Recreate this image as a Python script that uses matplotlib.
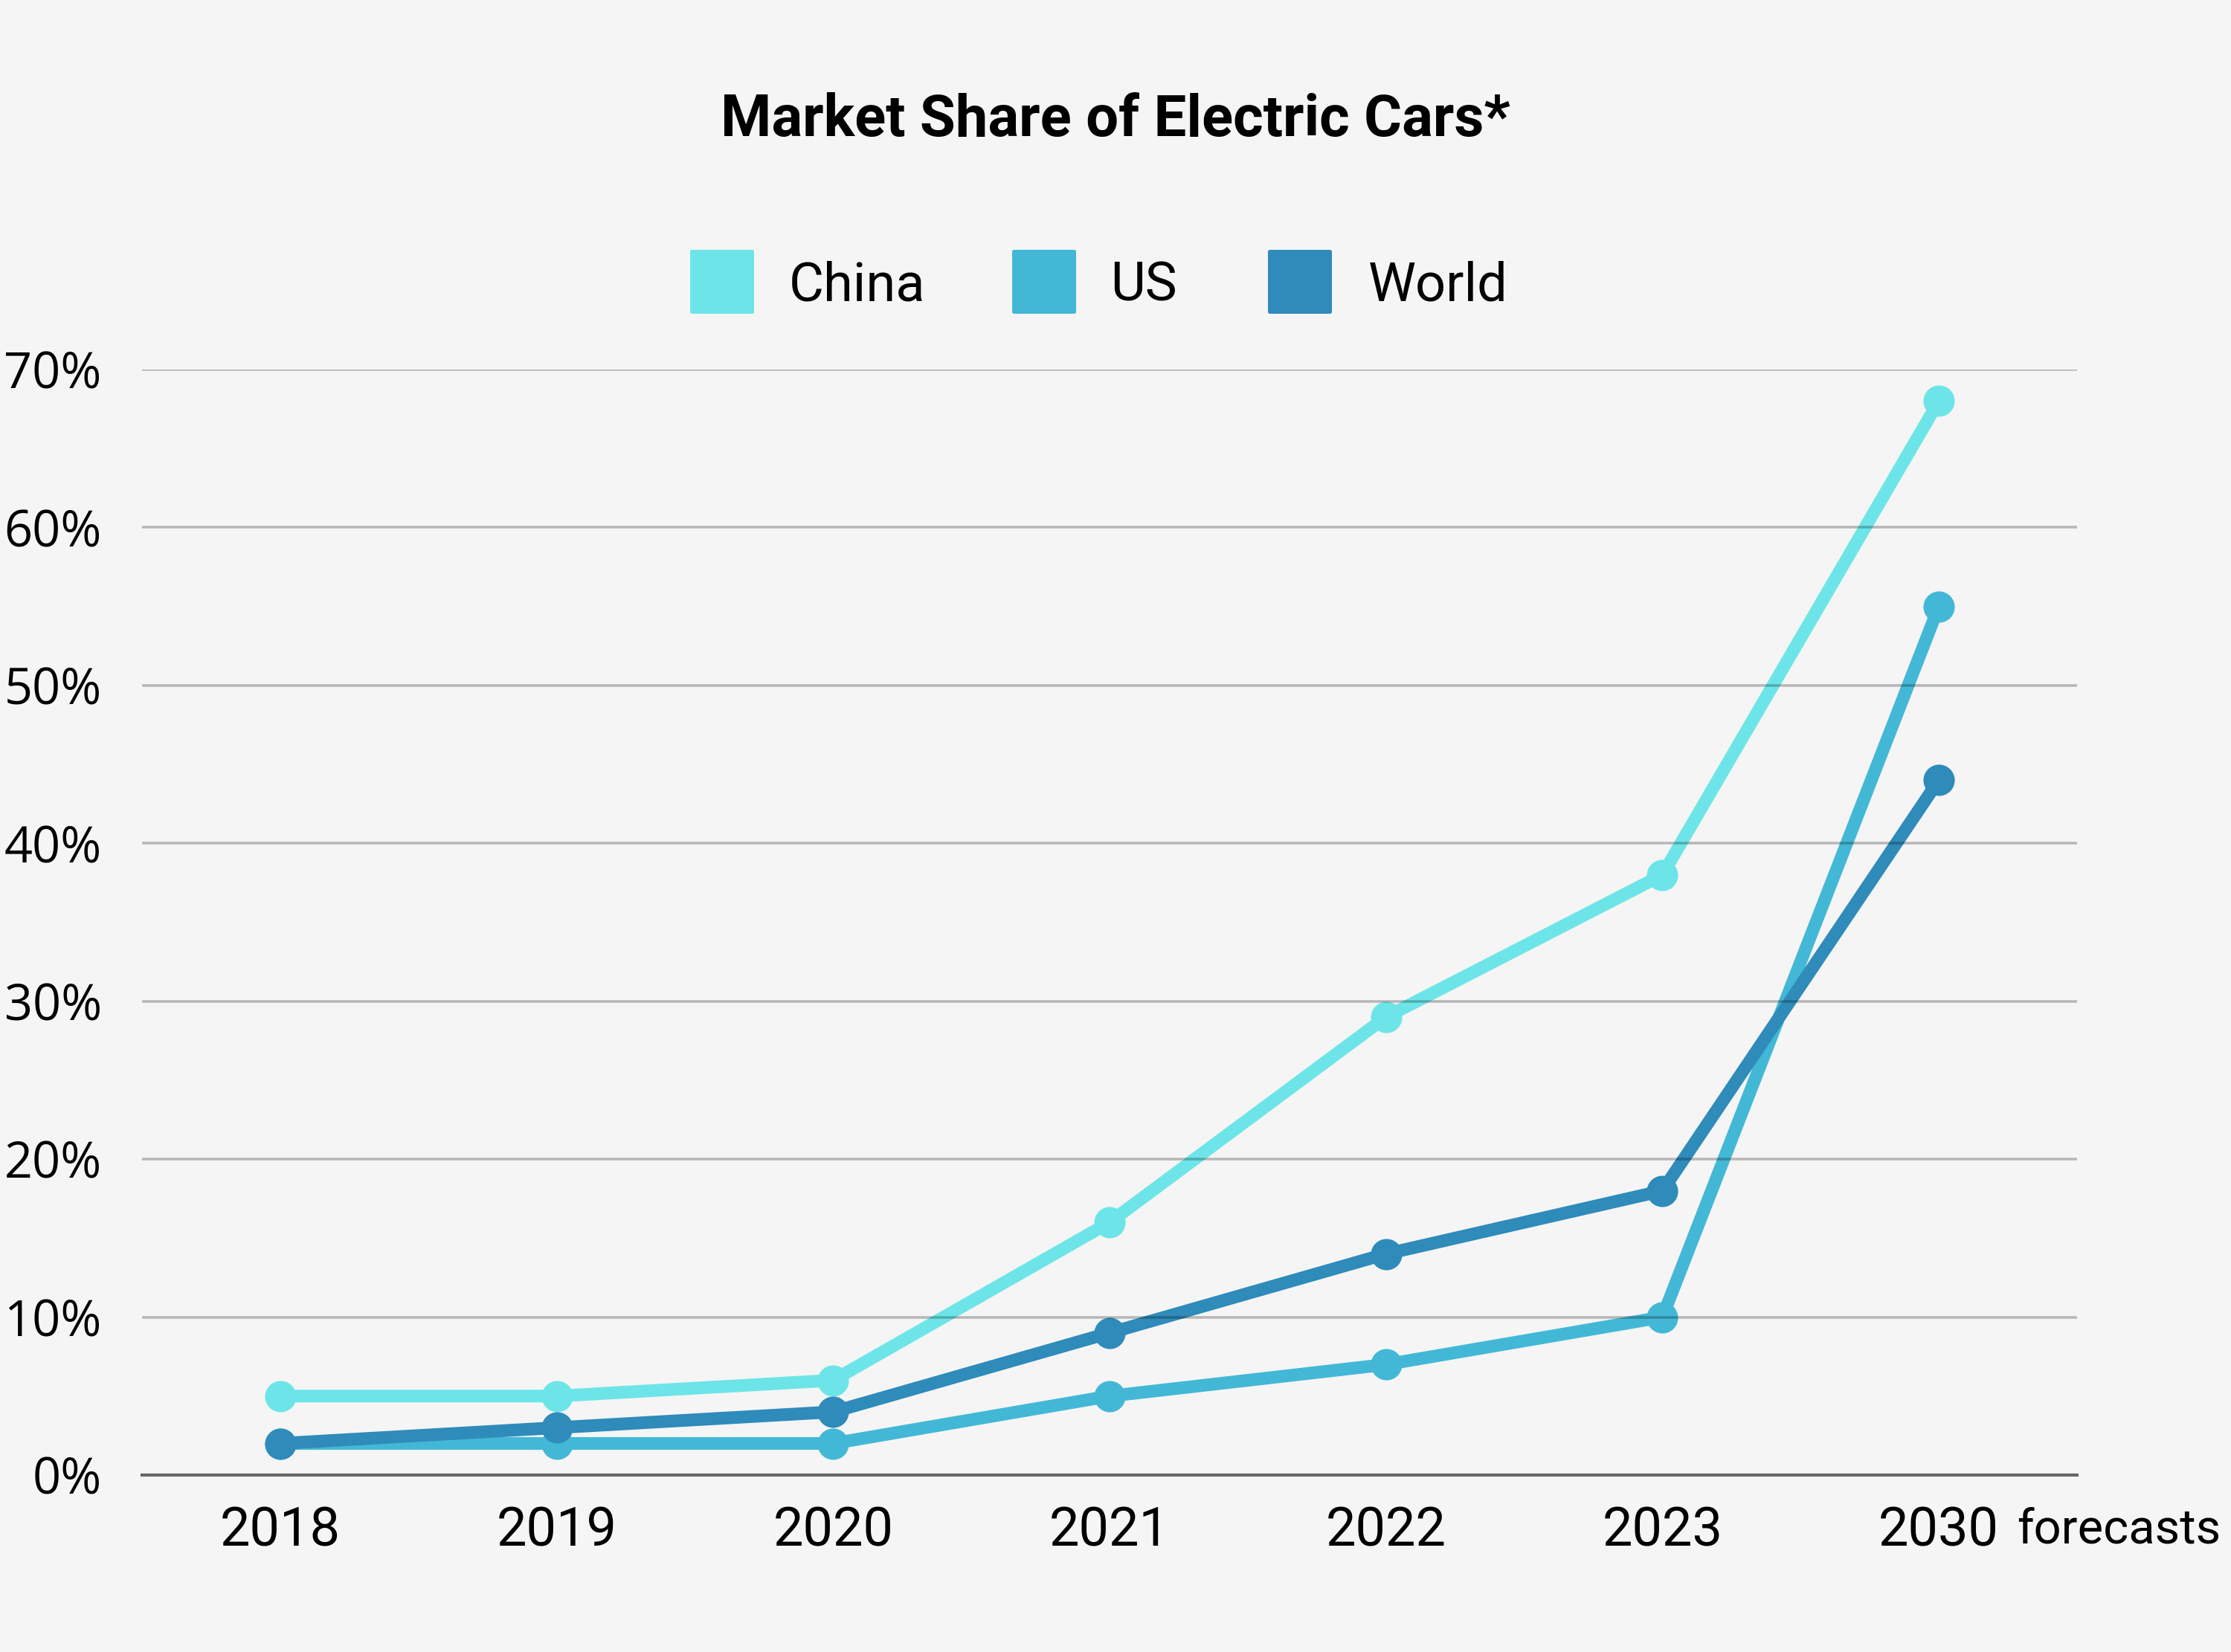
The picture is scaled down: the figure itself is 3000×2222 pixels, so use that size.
import matplotlib
matplotlib.use("Agg")
import matplotlib.pyplot as plt
from matplotlib.patches import FancyBboxPatch

years = ["2018", "2019", "2020", "2021", "2022", "2023", "2030"]
china = [5, 5, 6, 16, 29, 38, 68]
us = [2, 2, 2, 5, 7, 10, 55]
world = [2, 3, 4, 9, 14, 18, 44]
series_names = ["China", "US", "World"]
colors = ["#6DE5E8", "#43B8D6", "#2E8BBA"]
yticks = [0, 10, 20, 30, 40, 50, 60, 70]

bg = "#F5F5F5"
fig = plt.figure(figsize=(10, 2222 / 300), dpi=300, facecolor=bg)
ax = fig.add_axes([191 / 3000, 1 - 1984 / 2222, (2793 - 191) / 3000, (1984 - 497) / 2222])
ax.set_facecolor(bg)

x = list(range(len(years)))
for vals, c in zip([china, us, world], colors):
    ax.plot(x, vals, color=c, lw=4.1, marker="o", ms=9.1, solid_capstyle="round",
            solid_joinstyle="round", zorder=2, clip_on=False)

ax.set_xlim(-0.5, len(years) - 0.5)
ax.set_ylim(0, 70)
ax.set_yticks(yticks)
ax.set_yticklabels([f"{v}%" for v in yticks], family="Open Sans", fontsize=16)
ax.set_xticks(x)
ax.set_xticklabels(years, family="Roboto", fontsize=17.3)
ax.tick_params(axis="y", length=0, pad=13, colors="black")
ax.tick_params(axis="x", length=0, pad=10, colors="black")

for v in yticks[1:]:
    ax.axhline(v, color="black", alpha=0.25, lw=0.85, zorder=3)
for s in ["top", "right", "left"]:
    ax.spines[s].set_visible(False)
ax.spines["bottom"].set_color("#666666")
ax.spines["bottom"].set_linewidth(1.0)
ax.spines["bottom"].set_zorder(4)

# "forecasts" label next to 2030
fig.text(2712 / 3000, 1 - 2075 / 2222, "forecasts", family="Roboto", fontsize=15.6,
         ha="left", va="baseline")

# Title
fig.text(0.5, 1 - 183 / 2222, "Market Share of Electric Cars*", family="Roboto",
         fontweight="bold", fontsize=18.7, ha="center", va="baseline")

# Legend
patch_x = [928, 1361, 1705]
text_x = [1061, 1493, 1840]
ly = 379
base = 404
size = 86
for px, tx, name, c in zip(patch_x, text_x, series_names, colors):
    p = FancyBboxPatch((px / 3000, 1 - (ly + size / 2) / 2222), size / 3000, size / 2222,
                       boxstyle="round,pad=0,rounding_size=0.001", transform=fig.transFigure,
                       facecolor=c, edgecolor="none")
    fig.patches.append(p)
    fig.text(tx / 3000, 1 - base / 2222, name, family="Roboto", fontsize=17.3,
             ha="left", va="baseline")

fig.savefig("out.png", dpi=300, facecolor=bg)
